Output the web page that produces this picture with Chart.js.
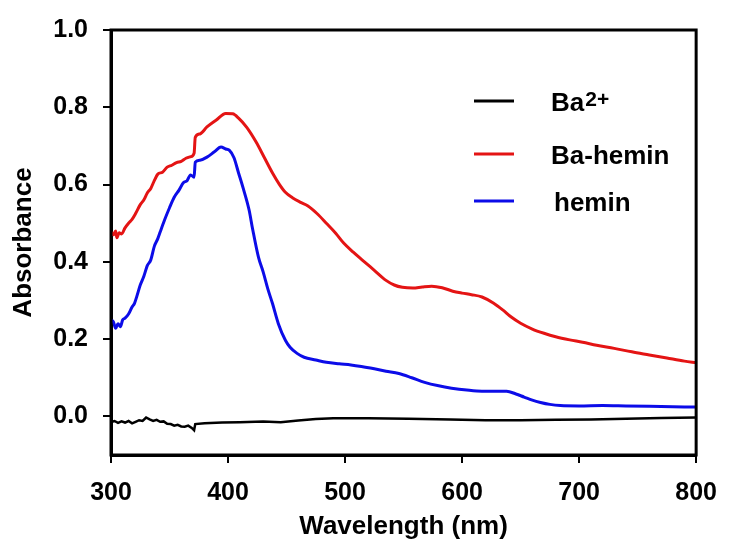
<!DOCTYPE html>
<html>
<head>
<meta charset="utf-8">
<script src="https://cdn.jsdelivr.net/npm/chart.js@4/dist/chart.umd.min.js"></script>
<style>
  html, body { margin: 0; padding: 0; background: #fff; }
  #uv { display: block; }
</style>
</head>
<body>
<canvas id="uv" width="732" height="545"></canvas>
<script>
// UV-vis spectra, values
const wlBa = [300,303,306,309,312,315,318,321,324,327,330,333,336,339,342,345,348,351,354,357,360,363,366,369,371,372,380,395,410,430,445,460,475,490,520,554,590,620,650,680,710,740,770,800];
const absBa = [-0.015,-0.012,-0.017,-0.013,-0.016,-0.012,-0.018,-0.014,-0.010,-0.012,-0.003,-0.008,-0.012,-0.009,-0.014,-0.013,-0.019,-0.020,-0.024,-0.022,-0.026,-0.027,-0.024,-0.030,-0.036,-0.020,-0.018,-0.016,-0.015,-0.013,-0.015,-0.011,-0.007,-0.005,-0.005,-0.006,-0.008,-0.010,-0.010,-0.009,-0.008,-0.006,-0.004,-0.003];

const wlBaHemin = [300,302,304,305,307,309,312,315,318,321,325,328,331,334,337,340,344,348,352,356,360,364,368,371,372,376,382,390,398,404,409,416,424,431,438,444,449,455,462,468,476,484,492,499,507,515,525,535,542,549,558,566,574,583,592,600,608,617,627,635,642,650,660,670,680,692,703,715,730,745,760,775,790,800];
const absBaHemin = [0.477,0.470,0.480,0.462,0.475,0.472,0.488,0.500,0.510,0.525,0.548,0.560,0.578,0.590,0.610,0.627,0.632,0.645,0.650,0.657,0.660,0.668,0.672,0.681,0.722,0.731,0.749,0.767,0.784,0.783,0.772,0.748,0.710,0.670,0.630,0.600,0.580,0.566,0.554,0.545,0.525,0.500,0.474,0.448,0.425,0.404,0.378,0.352,0.340,0.334,0.332,0.335,0.337,0.333,0.324,0.319,0.315,0.309,0.293,0.275,0.257,0.241,0.226,0.215,0.206,0.198,0.192,0.184,0.176,0.167,0.159,0.151,0.143,0.139];

const wlHemin = [300,302,304,306,308,310,312,315,318,320,322,325,328,331,334,337,340,342,346,350,354,358,362,365,368,371,372,376,382,388,394,398,401,405,409,413,418,421,426,430,434,438,443,449,453,459,465,475,484,495,505,514,525,535,546,557,568,580,591,604,617,627,638,646,653,660,667,675,684,700,720,740,760,780,800];
const absHemin = [0.249,0.245,0.228,0.240,0.232,0.250,0.254,0.265,0.283,0.292,0.310,0.340,0.362,0.390,0.405,0.440,0.460,0.477,0.510,0.540,0.567,0.585,0.605,0.610,0.625,0.619,0.658,0.663,0.671,0.684,0.697,0.692,0.689,0.670,0.630,0.590,0.534,0.485,0.412,0.374,0.330,0.292,0.240,0.197,0.179,0.163,0.153,0.146,0.140,0.136,0.133,0.129,0.123,0.117,0.111,0.100,0.088,0.079,0.073,0.068,0.065,0.065,0.065,0.058,0.050,0.042,0.036,0.031,0.028,0.027,0.028,0.027,0.026,0.025,0.024];

const xTicks = [300, 400, 500, 600, 700, 800];
const yTicks = [0.0, 0.2, 0.4, 0.6, 0.8, 1.0];

const FONT = "'Liberation Sans', Arial, sans-serif";
const pts = (xs, ys) => xs.map((x, i) => ({ x, y: ys[i] }));

// frame on top/right + legend with superscript
const framePlugin = {
  id: 'frame',
  afterDraw(chart) {
    const { ctx, chartArea: a } = chart;
    ctx.save();
    ctx.strokeStyle = '#000';
    ctx.lineWidth = 3;
    ctx.strokeRect(a.left, a.top, a.right - a.left, a.bottom - a.top);

    const items = [
      { label: 'Ba', sup: '2+', color: '#000', dy: 71, tx: 440 },
      { label: 'Ba-hemin', color: 'rgb(228,20,20)', dy: 124, tx: 440 },
      { label: 'hemin', color: 'rgb(12,12,232)', dy: 171, tx: 443 },
    ];
    const lx = a.left + 363;
    items.forEach(it => {
      const y = a.top + it.dy;
      ctx.strokeStyle = it.color;
      ctx.lineWidth = 3;
      ctx.beginPath();
      ctx.moveTo(lx, y);
      ctx.lineTo(lx + 40, y);
      ctx.stroke();
      ctx.fillStyle = '#000';
      ctx.textBaseline = 'alphabetic';
      ctx.font = `bold 26px ${FONT}`;
      const tx = a.left + it.tx;
      ctx.fillText(it.label, tx, y + 10);
      if (it.sup) {
        const w = ctx.measureText(it.label).width;
        ctx.font = `bold 21px ${FONT}`;
        ctx.fillText(it.sup, tx + w + 1, y + 5);
      }
    });
    ctx.restore();
  },
};

const tickFont = { family: FONT, size: 25, weight: 'bold' };
const titleFont = { family: FONT, size: 26, weight: 'bold' };

new Chart(document.getElementById('uv'), {
  type: 'line',
  data: {
    datasets: [
      { label: 'Ba2+', data: pts(wlBa, absBa), borderColor: '#000', borderWidth: 2.5 },
      { label: 'Ba-hemin', data: pts(wlBaHemin, absBaHemin), borderColor: 'rgb(228,20,20)', borderWidth: 3, cubicInterpolationMode: 'monotone' },
      { label: 'hemin', data: pts(wlHemin, absHemin), borderColor: 'rgb(12,12,232)', borderWidth: 3, cubicInterpolationMode: 'monotone' },
    ],
  },
  options: {
    responsive: false,
    animation: false,
    devicePixelRatio: 1,
    layout: { padding: { top: 28, right: 27, left: 0, bottom: 0 } },
    elements: { point: { radius: 0 }, line: { tension: 0, fill: false } },
    plugins: { legend: { display: false }, tooltip: { enabled: false } },
    scales: {
      x: {
        type: 'linear',
        min: 300, max: 800,
        afterBuildTicks: s => { s.ticks = xTicks.map(v => ({ value: v })); },
        afterFit: s => { s.height = 90; },
        grid: { drawOnChartArea: false, drawTicks: true, tickLength: 8, color: '#000', lineWidth: 2 },
        border: { display: true, color: '#000', width: 3 },
        ticks: { color: '#000', font: tickFont, padding: 15, maxRotation: 0 },
        title: { display: true, text: 'Wavelength (nm)', color: '#000', font: titleFont, padding: { top: 0, bottom: 3 } },
      },
      y: {
        min: -0.1, max: 1.0,
        afterBuildTicks: s => { s.ticks = yTicks.map(v => ({ value: v })); },
        afterFit: s => { s.width = 111; },
        grid: { drawOnChartArea: false, drawTicks: true, tickLength: 8, color: '#000', lineWidth: 2 },
        border: { display: true, color: '#000', width: 3 },
        ticks: { color: '#000', font: tickFont, padding: 15, callback: v => v.toFixed(1) },
        title: { display: true, text: 'Absorbance', color: '#000', font: titleFont, padding: { top: 8, bottom: 0 } },
      },
    },
  },
  plugins: [framePlugin],
});
</script>
</body>
</html>
